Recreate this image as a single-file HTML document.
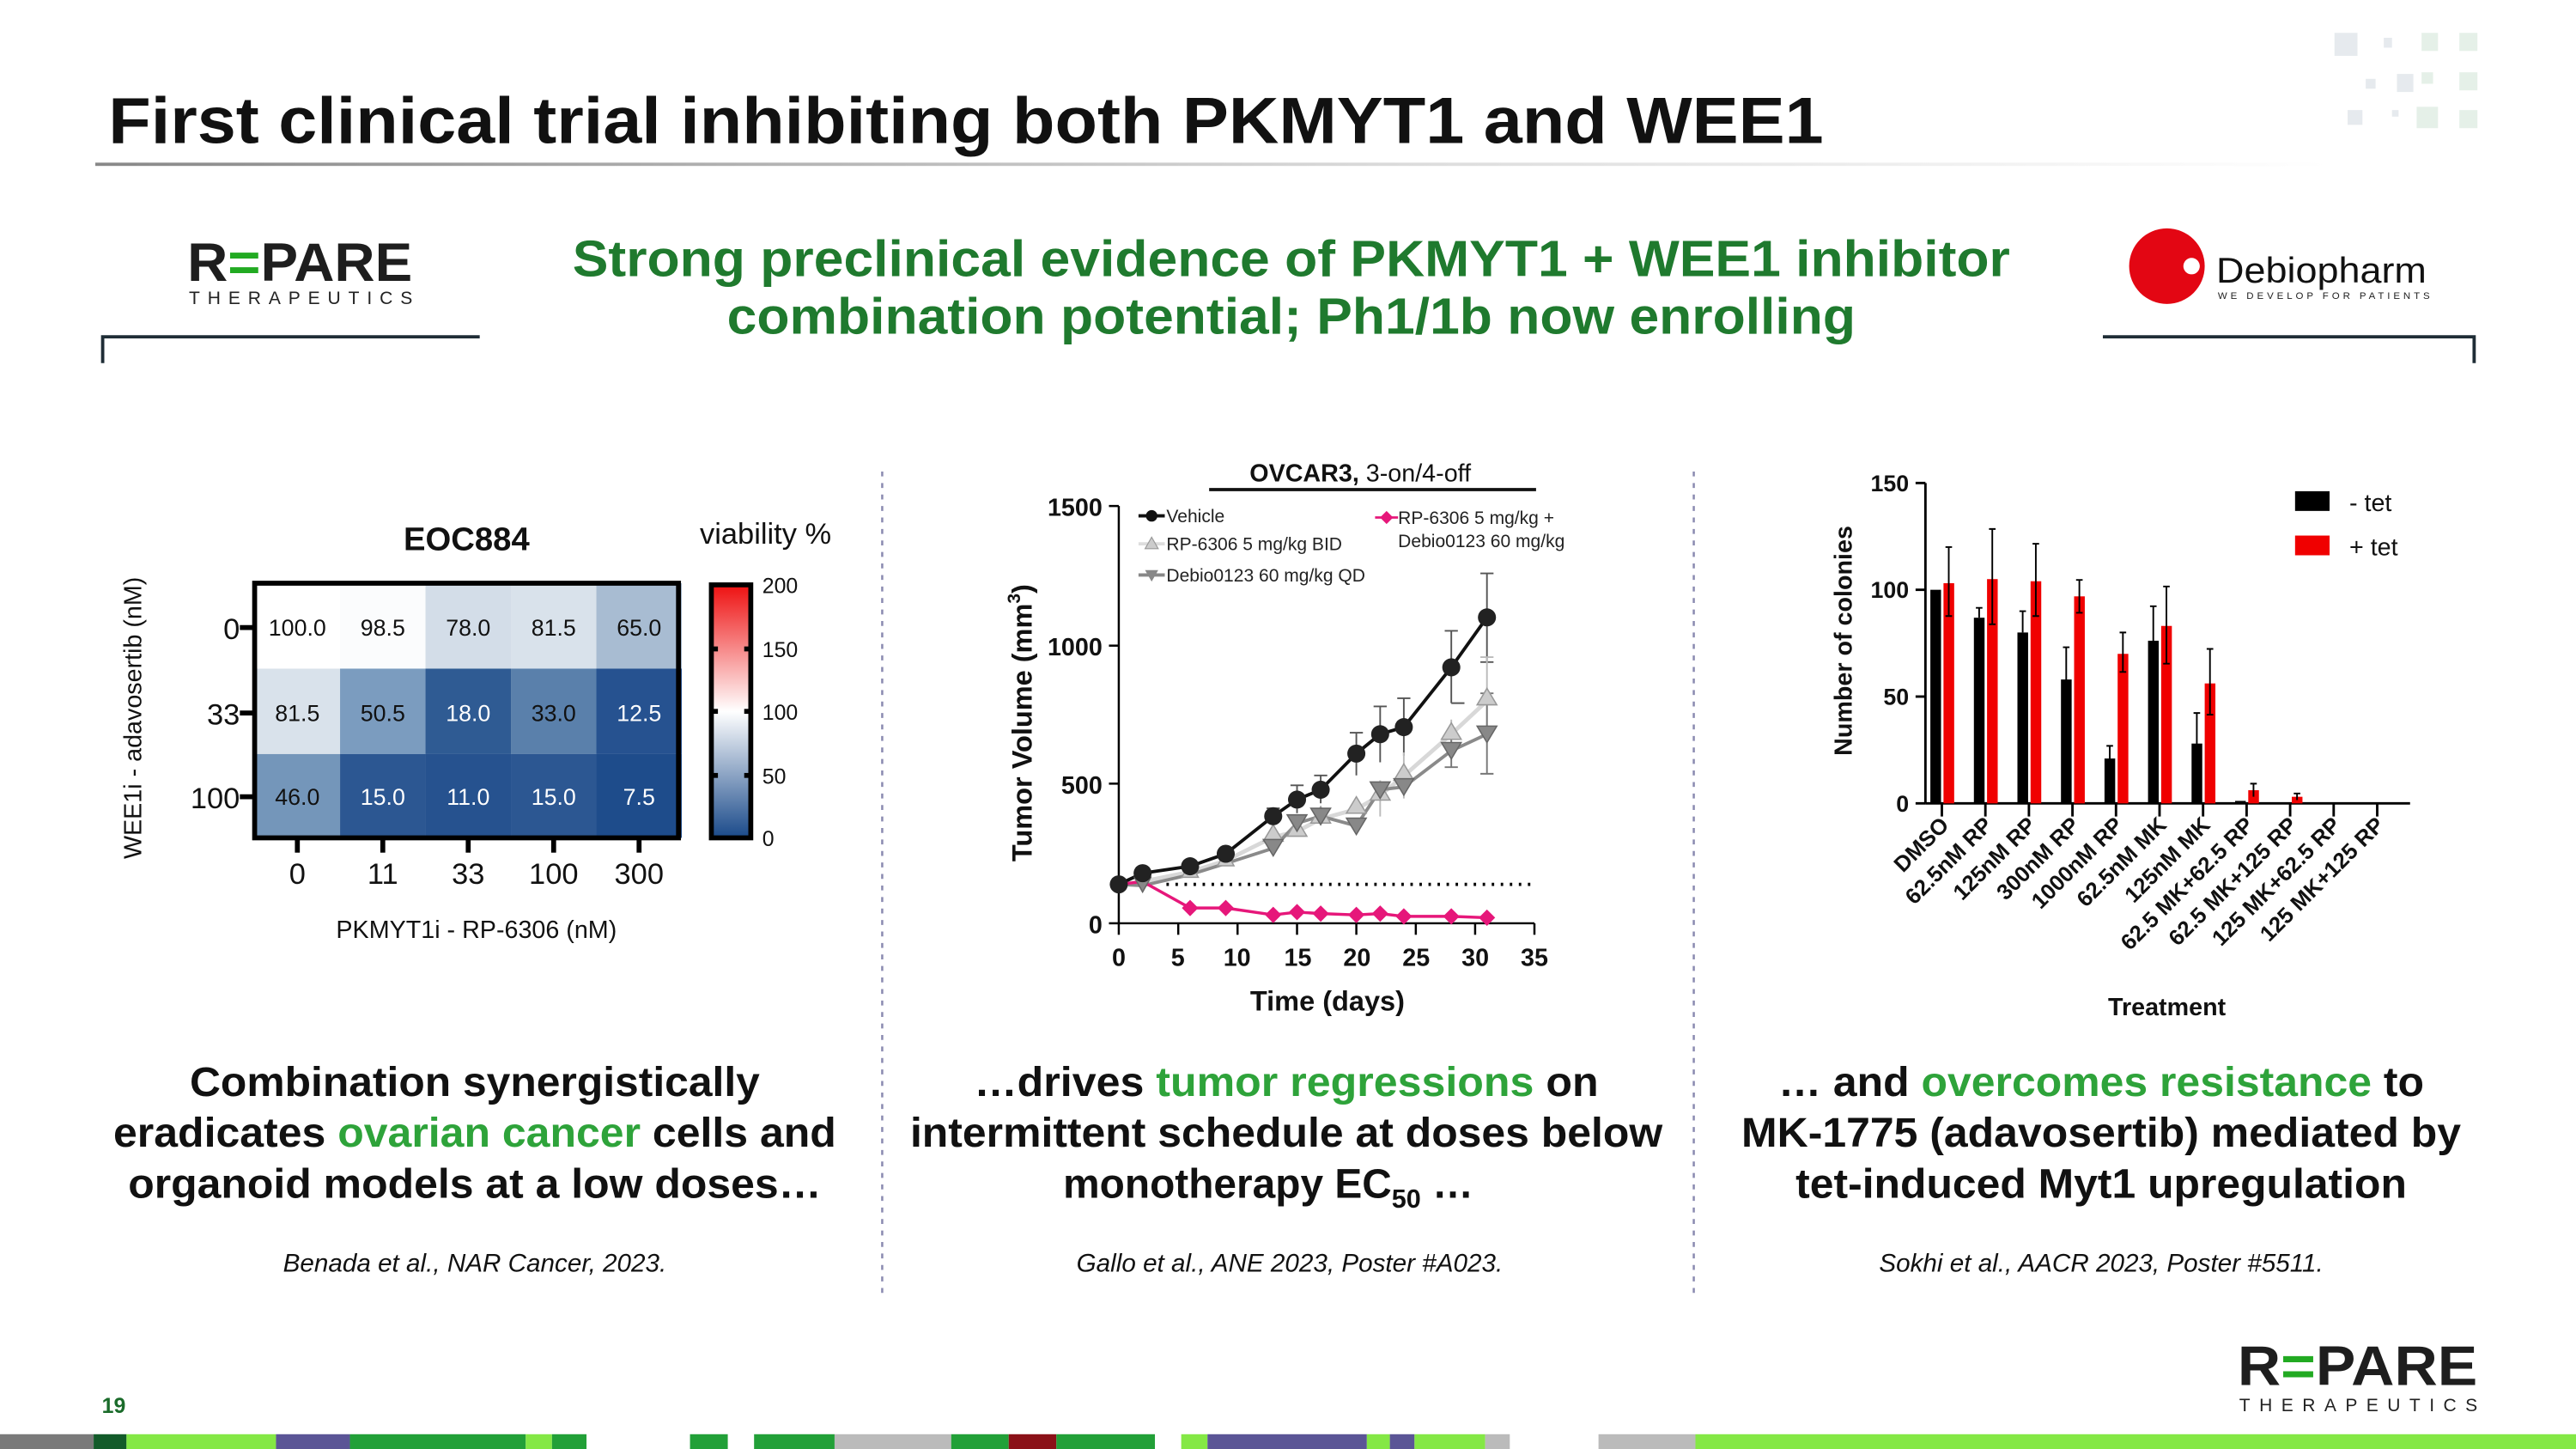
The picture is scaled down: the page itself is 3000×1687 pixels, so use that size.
<!DOCTYPE html>
<html><head><meta charset="utf-8"><style>
html,body{margin:0;padding:0;background:#fff;}
svg{display:block;}
text{font-family:"Liberation Sans",Arial,sans-serif;}
</style></head><body>
<svg width="3000" height="1687" viewBox="0 0 1568 882" preserveAspectRatio="none" xmlns="http://www.w3.org/2000/svg">
<rect width="1568" height="882" fill="#fff"/>
<!-- decorative squares -->
<g fill="#e6eaee">
<rect x="1421" y="20" width="14" height="14"/><rect x="1451" y="23" width="5" height="6"/><rect x="1459" y="45" width="10" height="11"/><rect x="1440" y="48" width="6" height="6"/><rect x="1429" y="67" width="9" height="9"/><rect x="1456" y="67" width="4" height="4"/>
</g>
<g fill="#e5f0e8">
<rect x="1474" y="20" width="10" height="11"/><rect x="1497" y="20" width="11" height="11"/><rect x="1474" y="44" width="7" height="7"/><rect x="1497" y="44" width="11" height="11"/><rect x="1471" y="65" width="13" height="13"/><rect x="1497" y="67" width="11" height="11"/>
</g>
<!-- title -->
<text x="66" y="87" font-size="40" font-weight="bold" fill="#111" textLength="1044" lengthAdjust="spacingAndGlyphs">First clinical trial inhibiting both PKMYT1 and WEE1</text>
<defs><linearGradient id="ul" x1="0" x2="1"><stop offset="0" stop-color="#888"/><stop offset="0.6" stop-color="#ddd"/><stop offset="1" stop-color="#fff"/></linearGradient></defs>
<rect x="58" y="99" width="1360" height="2" fill="url(#ul)"/>
<!-- Repare logo top -->
<text x="114" y="171" font-size="33" font-weight="bold" fill="#1e1e1e" textLength="137" lengthAdjust="spacingAndGlyphs">R<tspan fill="#2a2">=</tspan>PARE</text>
<text x="115" y="185" font-size="11" fill="#222" textLength="136" lengthAdjust="spacing">THERAPEUTICS</text>
<!-- subtitle -->
<text x="786" y="168" font-size="31" font-weight="bold" fill="#1f7a2e" text-anchor="middle" textLength="875" lengthAdjust="spacingAndGlyphs">Strong preclinical evidence of PKMYT1 + WEE1 inhibitor</text>
<text x="786" y="203" font-size="31" font-weight="bold" fill="#1f7a2e" text-anchor="middle" textLength="687" lengthAdjust="spacingAndGlyphs">combination potential; Ph1/1b now enrolling</text>
<!-- brackets -->
<path d="M62.5 221 V205 H292" fill="none" stroke="#1f2d36" stroke-width="2"/>
<path d="M1280 205 H1506 V221" fill="none" stroke="#1f2d36" stroke-width="2"/>
<!-- Debiopharm -->
<circle cx="1319" cy="162" r="23" fill="#e30613"/><circle cx="1334" cy="162" r="5" fill="#fff"/>
<text x="1349" y="172" font-size="22" fill="#111" textLength="128" lengthAdjust="spacingAndGlyphs">Debiopharm</text>
<text x="1350" y="182" font-size="6" fill="#222" textLength="129" lengthAdjust="spacing">WE DEVELOP FOR PATIENTS</text>
<!-- separators -->
<line x1="537" y1="287" x2="537" y2="790" stroke="#8a8ab0" stroke-width="1.3" stroke-dasharray="3,4"/>
<line x1="1031" y1="287" x2="1031" y2="790" stroke="#8a8ab0" stroke-width="1.3" stroke-dasharray="3,4"/>

<!-- HEATMAP -->
<text x="284" y="335" font-size="20" font-weight="bold" text-anchor="middle" fill="#111">EOC884</text>
<text x="466" y="331" font-size="18" text-anchor="middle" fill="#111">viability %</text>
<g font-size="14" text-anchor="middle">
<rect x="155" y="355" width="52" height="52" fill="#ffffff"/><text x="181" y="387" fill="#111">100.0</text>
<rect x="207" y="355" width="52" height="52" fill="#fbfcfd"/><text x="233" y="387" fill="#111">98.5</text>
<rect x="259" y="355" width="52" height="52" fill="#d3dde8"/><text x="285" y="387" fill="#111">78.0</text>
<rect x="311" y="355" width="52" height="52" fill="#d9e2eb"/><text x="337" y="387" fill="#111">81.5</text>
<rect x="363" y="355" width="52" height="52" fill="#a8bcd2"/><text x="389" y="387" fill="#111">65.0</text>
<rect x="155" y="407" width="52" height="52" fill="#d9e2eb"/><text x="181" y="439" fill="#111">81.5</text>
<rect x="207" y="407" width="52" height="52" fill="#7b9cbf"/><text x="233" y="439" fill="#111">50.5</text>
<rect x="259" y="407" width="52" height="52" fill="#2f5b93"/><text x="285" y="439" fill="#fff">18.0</text>
<rect x="311" y="407" width="52" height="52" fill="#5a80ab"/><text x="337" y="439" fill="#111">33.0</text>
<rect x="363" y="407" width="52" height="52" fill="#265290"/><text x="389" y="439" fill="#fff">12.5</text>
<rect x="155" y="459" width="52" height="51" fill="#7496ba"/><text x="181" y="490" fill="#111">46.0</text>
<rect x="207" y="459" width="52" height="51" fill="#2c5792"/><text x="233" y="490" fill="#fff">15.0</text>
<rect x="259" y="459" width="52" height="51" fill="#26528f"/><text x="285" y="490" fill="#fff">11.0</text>
<rect x="311" y="459" width="52" height="51" fill="#2c5792"/><text x="337" y="490" fill="#fff">15.0</text>
<rect x="363" y="459" width="52" height="51" fill="#1e4c8b"/><text x="389" y="490" fill="#fff">7.5</text>
</g>
<rect x="155" y="355" width="258" height="155" fill="none" stroke="#000" stroke-width="3"/>
<g stroke="#000" stroke-width="3">
<line x1="146" y1="382" x2="155" y2="382"/><line x1="146" y1="434" x2="155" y2="434"/><line x1="146" y1="485" x2="155" y2="485"/>
<line x1="181" y1="510" x2="181" y2="519"/><line x1="233" y1="510" x2="233" y2="519"/><line x1="285" y1="510" x2="285" y2="519"/><line x1="337" y1="510" x2="337" y2="519"/><line x1="389" y1="510" x2="389" y2="519"/>
</g>
<g font-size="18" fill="#111" text-anchor="end">
<text x="146" y="389">0</text><text x="146" y="441">33</text><text x="146" y="492">100</text>
</g>
<g font-size="18" fill="#111" text-anchor="middle">
<text x="181" y="538">0</text><text x="233" y="538">11</text><text x="285" y="538">33</text><text x="337" y="538">100</text><text x="389" y="538">300</text>
</g>
<text x="290" y="571" font-size="15" fill="#111" text-anchor="middle">PKMYT1i - RP-6306 (nM)</text>
<text transform="translate(86,437) rotate(-90)" font-size="15" fill="#111" text-anchor="middle">WEE1i - adavosertib (nM)</text>
<defs><linearGradient id="cb" x1="0" y1="0" x2="0" y2="1"><stop offset="0" stop-color="#ee1111"/><stop offset="0.5" stop-color="#ffffff"/><stop offset="1" stop-color="#1a4a8a"/></linearGradient></defs>
<rect x="433" y="356" width="24" height="154" fill="url(#cb)" stroke="#000" stroke-width="3"/>
<g stroke="#000" stroke-width="3"><line x1="433" y1="395" x2="437" y2="395"/><line x1="453" y1="395" x2="457" y2="395"/><line x1="433" y1="433" x2="437" y2="433"/><line x1="453" y1="433" x2="457" y2="433"/><line x1="433" y1="472" x2="437" y2="472"/><line x1="453" y1="472" x2="457" y2="472"/></g>
<g font-size="13" fill="#111"><text x="464" y="361">200</text><text x="464" y="400">150</text><text x="464" y="438">100</text><text x="464" y="477">50</text><text x="464" y="515">0</text></g>

<!-- TUMOR CHART -->
<text x="828" y="293" font-size="15" text-anchor="middle" fill="#111"><tspan font-weight="bold">OVCAR3,</tspan> 3-on/4-off</text>
<line x1="736" y1="298" x2="935" y2="298" stroke="#111" stroke-width="2"/>
<line x1="681" y1="308" x2="681" y2="562" stroke="#000" stroke-width="1.3"/>
<line x1="681" y1="562" x2="934" y2="562" stroke="#000" stroke-width="1.3"/>
<g stroke="#000" stroke-width="1.3">
<line x1="675" y1="308" x2="681" y2="308"/><line x1="675" y1="393" x2="681" y2="393"/><line x1="675" y1="477" x2="681" y2="477"/><line x1="675" y1="562" x2="681" y2="562"/>
<line x1="681" y1="562" x2="681" y2="569"/><line x1="717.2" y1="562" x2="717.2" y2="569"/><line x1="753.3" y1="562" x2="753.3" y2="569"/><line x1="789.5" y1="562" x2="789.5" y2="569"/><line x1="825.6" y1="562" x2="825.6" y2="569"/><line x1="861.8" y1="562" x2="861.8" y2="569"/><line x1="897.9" y1="562" x2="897.9" y2="569"/><line x1="934" y1="562" x2="934" y2="569"/>
</g>
<g font-size="15" font-weight="bold" fill="#111" text-anchor="end"><text x="671" y="314">1500</text><text x="671" y="399">1000</text><text x="671" y="483">500</text><text x="671" y="568">0</text></g>
<g font-size="15" font-weight="bold" fill="#111" text-anchor="middle"><text x="681" y="588">0</text><text x="717" y="588">5</text><text x="753" y="588">10</text><text x="790" y="588">15</text><text x="826" y="588">20</text><text x="862" y="588">25</text><text x="898" y="588">30</text><text x="934" y="588">35</text></g>
<text x="808" y="615" font-size="17" font-weight="bold" text-anchor="middle" fill="#111">Time (days)</text>
<text transform="translate(628,440) rotate(-90)" font-size="17" font-weight="bold" text-anchor="middle" fill="#111">Tumor Volume (mm<tspan font-size="11" dy="-7">3</tspan><tspan dy="7">)</tspan></text>
<line x1="710" y1="538.3" x2="934" y2="538.3" stroke="#000" stroke-width="2" stroke-dasharray="1.5,4"/>
<!-- error bars -->
<g stroke="#555" stroke-width="1" fill="none">
<path d="M775 492v10M771 492h8M789.5 478v17M785.5 478h8M803.9 472v17M799.9 472h8M825.6 446v26M821.6 446h8M840.1 430v34M836.1 430h8M854.5 425v35M850.5 425h8M883.4 384v44M879.4 384h8M883.4 428h8M905.1 349v54M901.1 349h8M901.1 403h8"/>
<path stroke="#bbb" d="M840.1 475v22M854.5 458v28M883.4 438v18M905.1 400v42M901.1 400h8"/>
<path stroke="#777" d="M883.4 450v17M879.4 467h8M905.1 422v49M901.1 422h8M901.1 471h8"/>
</g>
<polyline fill="none" stroke="#d8d8d8" stroke-width="2.5" points="681,538.3 695.5,536.6 724.4,530.7 746.1,523.9 775,509.5 789.5,506.1 803.9,498.5 825.6,492.6 840.1,484.1 854.5,472.3 883.4,446.9 905.1,426.6"/>
<polyline fill="none" stroke="#8a8a8a" stroke-width="2" points="681,538.3 695.5,539.1 724.4,532.4 746.1,525.6 775,516.3 789.5,501.1 803.9,496.8 825.6,502.7 840.1,480.7 854.5,479 883.4,457 905.1,446.9"/>
<polyline fill="none" stroke="#111" stroke-width="2" points="681,538.3 695.5,531.5 724.4,527.3 746.1,519.7 775,496.8 789.5,486.7 803.9,480.7 825.6,458.7 840.1,446.9 854.5,442.6 883.4,406.2 905.1,375.8"/>
<polyline fill="none" stroke="#e6177a" stroke-width="1.8" points="681,538.3 695.5,536.6 724.4,552.7 746.1,552.7 775,556.9 789.5,555.2 803.9,556.1 825.6,556.9 840.1,556.1 854.5,557.8 883.4,557.8 905.1,558.6"/>
<g fill="#ccc" stroke="#999" stroke-width="0.8">
<path d="M775 502l-6 10h12z"/><path d="M789.5 499l-6 10h12z"/><path d="M803.9 491l-6 10h12z"/><path d="M825.6 485l-6 10h12z"/><path d="M840.1 477l-6 10h12z"/><path d="M854.5 465l-6 10h12z"/><path d="M883.4 440l-6 10h12z"/><path d="M905.1 419l-6 10h12z"/><path d="M724.4 525l-5 9h10z"/><path d="M746.1 518l-5 9h10z"/>
</g>
<g fill="#888" stroke="#666" stroke-width="0.8">
<path d="M775 521l-6-10h12z"/><path d="M789.5 506l-6-10h12z"/><path d="M803.9 502l-6-10h12z"/><path d="M825.6 508l-6-10h12z"/><path d="M840.1 486l-6-10h12z"/><path d="M854.5 484l-6-10h12z"/><path d="M883.4 462l-6-10h12z"/><path d="M905.1 452l-6-10h12z"/><path d="M695.5 543l-5-9h10z"/>
</g>
<g fill="#222">
<circle cx="681" cy="538.3" r="5.5"/><circle cx="695.5" cy="531.5" r="5.5"/><circle cx="724.4" cy="527.3" r="5.5"/><circle cx="746.1" cy="519.7" r="5.5"/><circle cx="775" cy="496.8" r="5.5"/><circle cx="789.5" cy="486.7" r="5.5"/><circle cx="803.9" cy="480.7" r="5.5"/><circle cx="825.6" cy="458.7" r="5.5"/><circle cx="840.1" cy="446.9" r="5.5"/><circle cx="854.5" cy="442.6" r="5.5"/><circle cx="883.4" cy="406.2" r="5.5"/><circle cx="905.1" cy="375.8" r="5.5"/>
</g>
<g fill="#e6177a">
<path d="M724.4 547.7l5 5-5 5-5-5z"/><path d="M746.1 547.7l5 5-5 5-5-5z"/><path d="M775 551.9l5 5-5 5-5-5z"/><path d="M789.5 550.2l5 5-5 5-5-5z"/><path d="M803.9 551.1l5 5-5 5-5-5z"/><path d="M825.6 551.9l5 5-5 5-5-5z"/><path d="M840.1 551.1l5 5-5 5-5-5z"/><path d="M854.5 552.8l5 5-5 5-5-5z"/><path d="M883.4 552.8l5 5-5 5-5-5z"/><path d="M905.1 553.6l5 5-5 5-5-5z"/>
</g>
<!-- legend -->
<g font-size="11" fill="#222">
<line x1="693" y1="314" x2="709" y2="314" stroke="#111" stroke-width="2"/><circle cx="701" cy="314" r="3.5" fill="#111"/><text x="710" y="318">Vehicle</text>
<line x1="693" y1="331" x2="709" y2="331" stroke="#ddd" stroke-width="2"/><path d="M701 327l-4 7h8z" fill="#ccc" stroke="#999" stroke-width=".6"/><text x="710" y="335">RP-6306 5 mg/kg BID</text>
<line x1="693" y1="350" x2="709" y2="350" stroke="#888" stroke-width="2"/><path d="M701 354l-4-7h8z" fill="#888"/><text x="710" y="354">Debio0123 60 mg/kg QD</text>
<line x1="837" y1="315" x2="851" y2="315" stroke="#e6177a" stroke-width="1.5"/><path d="M844 311l4 4-4 4-4-4z" fill="#e6177a"/><text x="851" y="319">RP-6306 5 mg/kg +</text>
<text x="851" y="333">Debio0123 60 mg/kg</text>
</g>

<!-- BAR CHART -->
<line x1="1172" y1="294" x2="1172" y2="489" stroke="#000" stroke-width="1.5"/>
<line x1="1172" y1="489" x2="1467" y2="489" stroke="#000" stroke-width="1.5"/>
<g stroke="#000" stroke-width="1.5">
<line x1="1166" y1="294" x2="1172" y2="294"/><line x1="1166" y1="359" x2="1172" y2="359"/><line x1="1166" y1="424" x2="1172" y2="424"/><line x1="1166" y1="489" x2="1172" y2="489"/>
<line x1="1182" y1="489" x2="1182" y2="497"/><line x1="1208.5" y1="489" x2="1208.5" y2="497"/><line x1="1235" y1="489" x2="1235" y2="497"/><line x1="1261.5" y1="489" x2="1261.5" y2="497"/><line x1="1288" y1="489" x2="1288" y2="497"/><line x1="1314.5" y1="489" x2="1314.5" y2="497"/><line x1="1341" y1="489" x2="1341" y2="497"/><line x1="1367.5" y1="489" x2="1367.5" y2="497"/><line x1="1394" y1="489" x2="1394" y2="497"/><line x1="1420.5" y1="489" x2="1420.5" y2="497"/><line x1="1447" y1="489" x2="1447" y2="497"/>
</g>
<g font-size="14" font-weight="bold" fill="#111" text-anchor="end"><text x="1162" y="299">150</text><text x="1162" y="364">100</text><text x="1162" y="429">50</text><text x="1162" y="494">0</text></g>
<g fill="#000">
<rect x="1175" y="359" width="6.5" height="130"/><rect x="1201.5" y="376" width="6.5" height="113"/><rect x="1228" y="385" width="6.5" height="104"/><rect x="1254.5" y="413.6" width="6.5" height="75.4"/><rect x="1281" y="461.7" width="6.5" height="27.3"/><rect x="1307.5" y="390" width="6.5" height="99"/><rect x="1334" y="452.6" width="6.5" height="36.4"/><rect x="1360.5" y="487.5" width="6.5" height="1.5"/>
</g>
<g fill="#f00000">
<rect x="1183" y="355" width="6.5" height="134"/><rect x="1209.5" y="352.5" width="6.5" height="136.5"/><rect x="1236" y="353.8" width="6.5" height="135.2"/><rect x="1262.5" y="363" width="6.5" height="126"/><rect x="1289" y="398" width="6.5" height="91"/><rect x="1315.5" y="381" width="6.5" height="108"/><rect x="1342" y="416" width="6.5" height="73"/><rect x="1368.5" y="481" width="6.5" height="8"/><rect x="1395" y="485" width="6.5" height="4"/>
</g>
<g stroke="#000" stroke-width="1" fill="none">
<path d="M1186.2 333v42M1184.2 333h4M1184.2 375h4M1212.7 322v58M1210.7 322h4M1210.7 380h4M1239.2 331v44M1237.2 331h4M1237.2 375h4M1265.7 353v20M1263.7 353h4M1263.7 373h4M1292.2 385v24M1290.2 385h4M1290.2 409h4M1318.7 357v47M1316.7 357h4M1316.7 404h4M1345.2 395v40M1343.2 395h4M1343.2 435h4M1371.7 477v8M1369.7 477h4M1398.2 483v4M1396.2 483h4"/>
<path d="M1204.7 370v6M1202.7 370h4M1231.2 372v13M1229.2 372h4M1257.7 394v20M1255.7 394h4M1284.2 454v8M1282.2 454h4M1310.7 369v21M1308.7 369h4M1337.2 434v19M1335.2 434h4"/>
</g>
<g font-size="13.5" font-weight="bold" fill="#111" text-anchor="end">
<text transform="translate(1187,503) rotate(-45)">DMSO</text>
<text transform="translate(1213.5,503) rotate(-45)">62.5nM RP</text>
<text transform="translate(1240,503) rotate(-45)">125nM RP</text>
<text transform="translate(1266.5,503) rotate(-45)">300nM RP</text>
<text transform="translate(1293,503) rotate(-45)">1000nM RP</text>
<text transform="translate(1319.5,503) rotate(-45)">62.5nM MK</text>
<text transform="translate(1346,503) rotate(-45)">125nM MK</text>
<text transform="translate(1372.5,503) rotate(-45)">62.5 MK+62.5 RP</text>
<text transform="translate(1399,503) rotate(-45)">62.5 MK+125 RP</text>
<text transform="translate(1425.5,503) rotate(-45)">125 MK+62.5 RP</text>
<text transform="translate(1452,503) rotate(-45)">125 MK+125 RP</text>
</g>
<text x="1319" y="618" font-size="15" font-weight="bold" text-anchor="middle" fill="#111">Treatment</text>
<text transform="translate(1127,390) rotate(-90)" font-size="15" font-weight="bold" text-anchor="middle" fill="#111">Number of colonies</text>
<rect x="1397" y="299" width="21" height="12" fill="#000"/><text x="1430" y="311" font-size="15" fill="#111">- tet</text>
<rect x="1397" y="326" width="21" height="12" fill="#f00000"/><text x="1430" y="338" font-size="15" fill="#111">+ tet</text>

<!-- bottom texts -->
<g font-size="25" font-weight="bold" fill="#111" text-anchor="middle">
<text x="289" y="667" textLength="347" lengthAdjust="spacingAndGlyphs">Combination synergistically</text>
<text x="289" y="698" textLength="440" lengthAdjust="spacingAndGlyphs">eradicates <tspan fill="#2ea33a">ovarian cancer</tspan> cells and</text>
<text x="289" y="729" textLength="422" lengthAdjust="spacingAndGlyphs">organoid models at a low doses…</text>
<text x="783" y="667" textLength="380" lengthAdjust="spacingAndGlyphs">…drives <tspan fill="#2ea33a">tumor regressions</tspan> on</text>
<text x="783" y="698" textLength="458" lengthAdjust="spacingAndGlyphs">intermittent schedule at doses below</text>
<text x="772" y="729">monotherapy EC<tspan font-size="16" dy="6">50</tspan><tspan dy="-6"> …</tspan></text>
<text x="1279" y="667" textLength="393" lengthAdjust="spacingAndGlyphs">… and <tspan fill="#2ea33a">overcomes resistance</tspan> to</text>
<text x="1279" y="698" textLength="438" lengthAdjust="spacingAndGlyphs">MK-1775 (adavosertib) mediated by</text>
<text x="1279" y="729" textLength="372" lengthAdjust="spacingAndGlyphs">tet-induced Myt1 upregulation</text>
</g>
<g font-size="15.5" font-style="italic" fill="#111" text-anchor="middle">
<text x="289" y="774">Benada et al., NAR Cancer, 2023.</text>
<text x="785" y="774">Gallo et al., ANE 2023, Poster #A023.</text>
<text x="1279" y="774">Sokhi et al., AACR 2023, Poster #5511.</text>
</g>
<text x="62" y="860" font-size="13" font-weight="bold" fill="#1a6b2a">19</text>
<!-- bottom logo -->
<text x="1362" y="843" font-size="34" font-weight="bold" fill="#1e1e1e" textLength="146" lengthAdjust="spacingAndGlyphs">R<tspan fill="#2a2">=</tspan>PARE</text>
<text x="1363" y="859" font-size="11" fill="#222" textLength="145" lengthAdjust="spacing">THERAPEUTICS</text>
<!-- bottom bar -->
<g>
<rect x="0" y="873" width="57" height="9" fill="#7a7a7a"/><rect x="57" y="873" width="20" height="9" fill="#135b2a"/><rect x="77" y="873" width="91" height="9" fill="#84e845"/><rect x="168" y="873" width="45" height="9" fill="#5b5596"/><rect x="213" y="873" width="107" height="9" fill="#22a038"/><rect x="320" y="873" width="16" height="9" fill="#84e845"/><rect x="336" y="873" width="21" height="9" fill="#22a038"/><rect x="420" y="873" width="23" height="9" fill="#22a038"/><rect x="459" y="873" width="49" height="9" fill="#22a038"/><rect x="508" y="873" width="71" height="9" fill="#bbbbbb"/><rect x="579" y="873" width="35" height="9" fill="#22a038"/><rect x="614" y="873" width="29" height="9" fill="#8b1118"/><rect x="643" y="873" width="60" height="9" fill="#22a038"/><rect x="719" y="873" width="16" height="9" fill="#84e845"/><rect x="735" y="873" width="97" height="9" fill="#5b5596"/><rect x="832" y="873" width="14" height="9" fill="#84e845"/><rect x="846" y="873" width="15" height="9" fill="#5b5596"/><rect x="861" y="873" width="43" height="9" fill="#84e845"/><rect x="904" y="873" width="15" height="9" fill="#bbbbbb"/><rect x="973" y="873" width="59" height="9" fill="#bbbbbb"/><rect x="1032" y="873" width="536" height="9" fill="#84e845"/>
</g>
</svg>
</body></html>
